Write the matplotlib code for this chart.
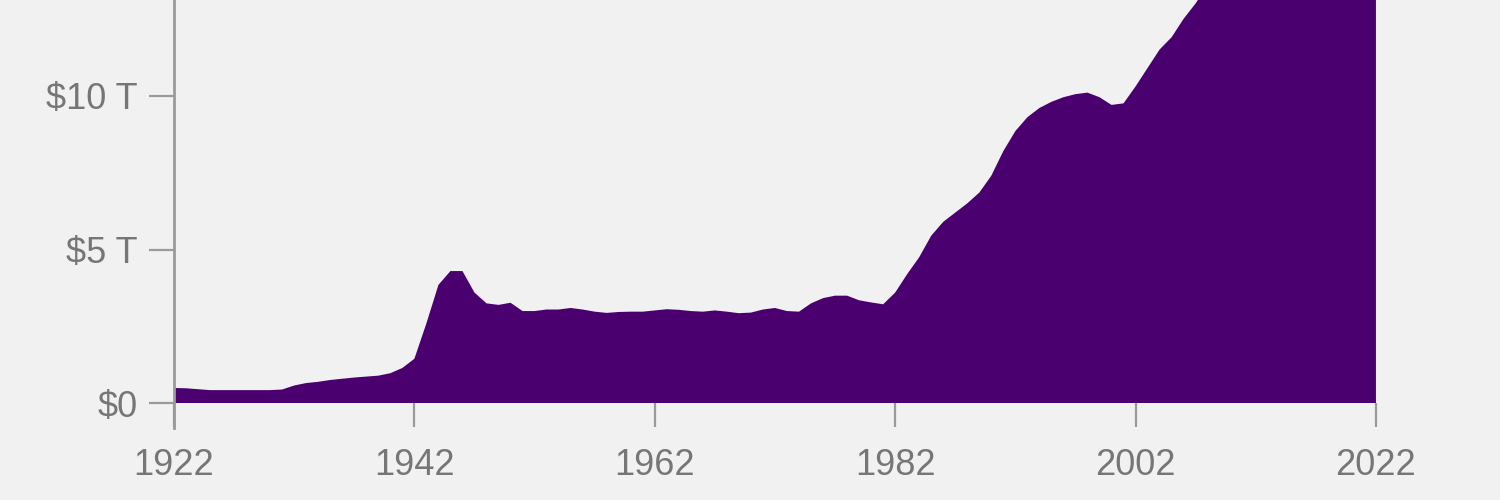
import numpy as np
import matplotlib
matplotlib.use("Agg")
import matplotlib.pyplot as plt

# Debt in trillions of dollars, 1922-2022
years = list(range(1922, 2023))
debt = [
    0.50, 0.49, 0.46, 0.43, 0.43, 0.43, 0.43, 0.43, 0.43, 0.45,   # 1922-1931
    0.58, 0.66, 0.70, 0.76, 0.80, 0.84, 0.87, 0.90, 0.98, 1.15,   # 1932-1941
    1.45, 2.60, 3.85, 4.30, 4.30, 3.60, 3.25, 3.20, 3.27, 3.00,   # 1942-1951
    3.00, 3.05, 3.05, 3.10, 3.05, 2.98, 2.94, 2.97, 2.98, 2.98,   # 1952-1961
    3.02, 3.06, 3.04, 3.00, 2.98, 3.02, 2.98, 2.93, 2.95, 3.05,   # 1962-1971
    3.10, 3.00, 2.98, 3.25, 3.42, 3.50, 3.50, 3.35, 3.28, 3.22,   # 1972-1981
    3.60, 4.20, 4.75, 5.45, 5.90, 6.20, 6.50, 6.85, 7.40, 8.20,   # 1982-1991
    8.85, 9.30, 9.60, 9.80, 9.95, 10.05, 10.10, 9.95, 9.70, 9.75, # 1992-2001
    10.30, 10.90, 11.50, 11.90, 12.50, 13.00, 13.60, 15.00, 16.80, 18.00,  # 2002-2011
    19.20, 20.00, 20.60, 21.20, 22.10, 22.60, 23.50, 24.60, 29.00, 30.50,  # 2012-2021
    31.40,                                                         # 2022
]
x_ticks = [1922, 1942, 1962, 1982, 2002, 2022]
y_ticks = [0, 5, 10]
y_labels = ["$0", "$5 T", "$10 T"]

bg = "#f1f1f1"
fill_color = "#4b0070"
axis_gray = "#9a9a9a"
text_gray = "#767676"

plt.rcParams["font.family"] = ["Liberation Sans", "DejaVu Sans"]

fig = plt.figure(figsize=(15, 5), dpi=100, facecolor=bg)
ax = fig.add_axes([0.116, 0.1933, 0.8013, 0.8067], facecolor=bg)

ax.fill_between(years, debt, 0, color=fill_color, linewidth=0)

ax.set_xlim(1922, 2022)
ax.set_ylim(0, 13.11)

for s in ["top", "right", "bottom"]:
    ax.spines[s].set_visible(False)
ax.spines["left"].set_color(axis_gray)
ax.spines["left"].set_linewidth(2)
ax.spines["left"].set_bounds(-0.8, 13.11)

ax.set_xticks(x_ticks)
ax.set_xticklabels([str(t) for t in x_ticks])
ax.set_yticks(y_ticks)
ax.set_yticklabels(y_labels)

ax.tick_params(axis="x", length=17, width=1.6, color=axis_gray, pad=15,
               labelsize=26, labelcolor=text_gray)
ax.tick_params(axis="y", length=18, width=1.6, color=axis_gray, pad=8,
               labelsize=26, labelcolor=text_gray)

fig.savefig("out.png", dpi=100, facecolor=bg)
